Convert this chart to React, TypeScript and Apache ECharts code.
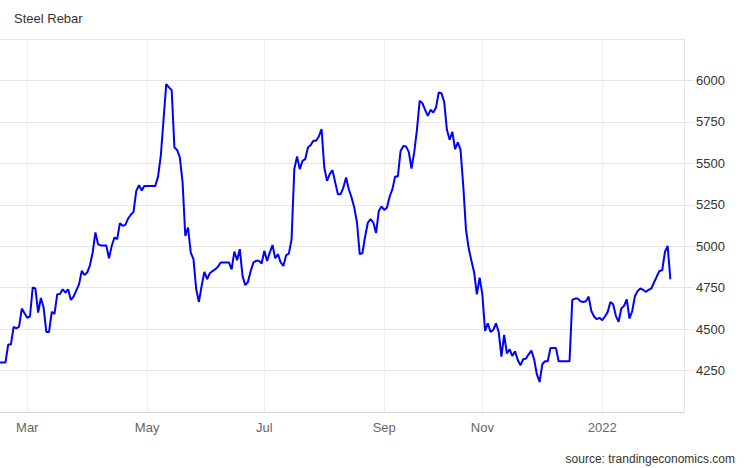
import React, { useEffect, useRef } from "react";
import * as echarts from "echarts";

// Steel rebar price, one value per trading observation (Feb 2021 - Feb 2022)
const rebarPrices: number[] = [
  4298, 4298, 4298, 4407, 4407, 4513, 4505, 4515, 4624, 4596,
  4568, 4576, 4751, 4745, 4600, 4688, 4630, 4483, 4483, 4604,
  4592, 4710, 4712, 4740, 4721, 4740, 4676, 4696, 4734, 4770,
  4851, 4827, 4841, 4885, 4961, 5083, 5011, 5005, 5005, 5005,
  4927, 5002, 5053, 5043, 5139, 5123, 5129, 5167, 5190, 5207,
  5334, 5368, 5336, 5364, 5364, 5364, 5364, 5364, 5420, 5545,
  5760, 5978, 5958, 5941, 5596, 5581, 5535, 5385, 5062, 5113,
  4961, 4922, 4740, 4664, 4761, 4845, 4801, 4837, 4850, 4861,
  4877, 4902, 4902, 4902, 4902, 4861, 4968, 4916, 4982, 4821,
  4765, 4785, 4851, 4902, 4912, 4912, 4896, 4972, 4912, 4961,
  5007, 4927, 4952, 4902, 4881, 4946, 4955, 5043, 5465, 5541,
  5465, 5515, 5525, 5596, 5610, 5636, 5636, 5662, 5706, 5475,
  5394, 5435, 5459, 5385, 5314, 5314, 5354, 5415, 5344, 5294,
  5233, 5143, 4952, 4958, 5060, 5143, 5163, 5143, 5079, 5213,
  5240, 5219, 5233, 5300, 5344, 5421, 5421, 5575, 5605, 5602,
  5569, 5469, 5566, 5702, 5877, 5863, 5823, 5786, 5823, 5807,
  5837, 5928, 5923, 5871, 5702, 5642, 5690, 5585, 5626, 5581,
  5364, 5100, 4986, 4912, 4841, 4710, 4811, 4710, 4489, 4535,
  4483, 4495, 4535, 4483, 4334, 4465, 4354, 4378, 4338, 4366,
  4314, 4282, 4318, 4322, 4348, 4370, 4318, 4228, 4181, 4288,
  4306, 4306, 4386, 4386, 4386, 4306, 4306, 4306, 4306, 4306,
  4676, 4684, 4684, 4668, 4664, 4668, 4696, 4609, 4576, 4560,
  4568, 4554, 4576, 4604, 4664, 4650, 4580, 4544, 4624, 4640,
  4680, 4564, 4609, 4700, 4730, 4745, 4737, 4724, 4737, 4745,
  4781, 4817, 4851, 4855, 4965, 5002, 4801,
];

// x axis: month labels and the observation index they sit on
const xTickLabels: string[] = ["Mar", "May", "Jul", "Sep", "Nov", "2022"];
const xTickIndex: number[] = [10, 54, 97, 141, 177, 221];
const totalSlots = 252; // observation slots spanning the plot width

// y axis
const yMin = 4000;
const yMax = 6250;
const yStep = 250;

const titleText = "Steel Rebar";
const sourceText = "source: trandingeconomics.com";

const FONT = "'Liberation Sans', Arial, Helvetica, sans-serif";

export default function App() {
  const ref = useRef<HTMLDivElement>(null);

  useEffect(() => {
    if (!ref.current) return;
    const chart = echarts.init(ref.current, undefined, { renderer: "svg" });
    const categories = Array.from({ length: totalSlots }, (_, i) => String(i));
    const labelAt = (i: number) => {
      const k = xTickIndex.indexOf(i);
      return k >= 0 ? xTickLabels[k] : "";
    };
    const isTick = (i: number) => xTickIndex.indexOf(i) >= 0;

    chart.setOption({
      animation: false,
      backgroundColor: "#ffffff",
      textStyle: { fontFamily: FONT },
      title: {
        text: titleText,
        left: 14,
        top: 12,
        padding: 0,
        textStyle: { fontSize: 13, fontWeight: "normal", color: "#333333", fontFamily: FONT },
      },
      grid: { left: 0, right: 62, top: 39, bottom: 56, containLabel: false },
      xAxis: {
        type: "category",
        data: categories,
        boundaryGap: false,
        axisLine: { show: true, lineStyle: { color: "#ccd6eb", width: 1 } },
        axisTick: { show: false },
        axisLabel: {
          interval: (i: number) => isTick(i),
          formatter: (_v: string, i: number) => labelAt(i),
          color: "#666666",
          fontSize: 13,
          margin: 9,
          fontFamily: FONT,
        },
        splitLine: {
          show: true,
          interval: (i: number) => isTick(i),
          lineStyle: { color: "#efefef", width: 1 },
        },
      },
      yAxis: {
        type: "value",
        position: "right",
        min: yMin,
        max: yMax,
        interval: yStep,
        axisLine: { show: true, lineStyle: { color: "#e6e6e6", width: 1 } },
        axisTick: { show: true, length: 10, lineStyle: { color: "#e6e6e6" } },
        axisLabel: {
          showMinLabel: false,
          showMaxLabel: false,
          formatter: (v: number) => String(v),
          color: "#333333",
          fontSize: 13,
          margin: 12,
          fontFamily: FONT,
        },
        splitLine: { show: true, lineStyle: { color: "#e6e6e6", width: 1 } },
      },
      graphic: [
        {
          type: "text",
          right: 11,
          top: 453,
          style: {
            text: sourceText,
            fill: "#333333",
            fontSize: 12,
            fontFamily: FONT,
          },
        },
      ],
      series: [
        {
          type: "line",
          data: rebarPrices,
          showSymbol: false,
          symbol: "none",
          lineStyle: { color: "#0000ff", width: 2 },
          itemStyle: { color: "#0000ff" },
          clip: true,
        },
      ],
    });
    return () => chart.dispose();
  }, []);

  return (
    <div
      ref={ref}
      style={{ position: "fixed", left: 0, top: 0, width: 746, height: 468 }}
    />
  );
}
